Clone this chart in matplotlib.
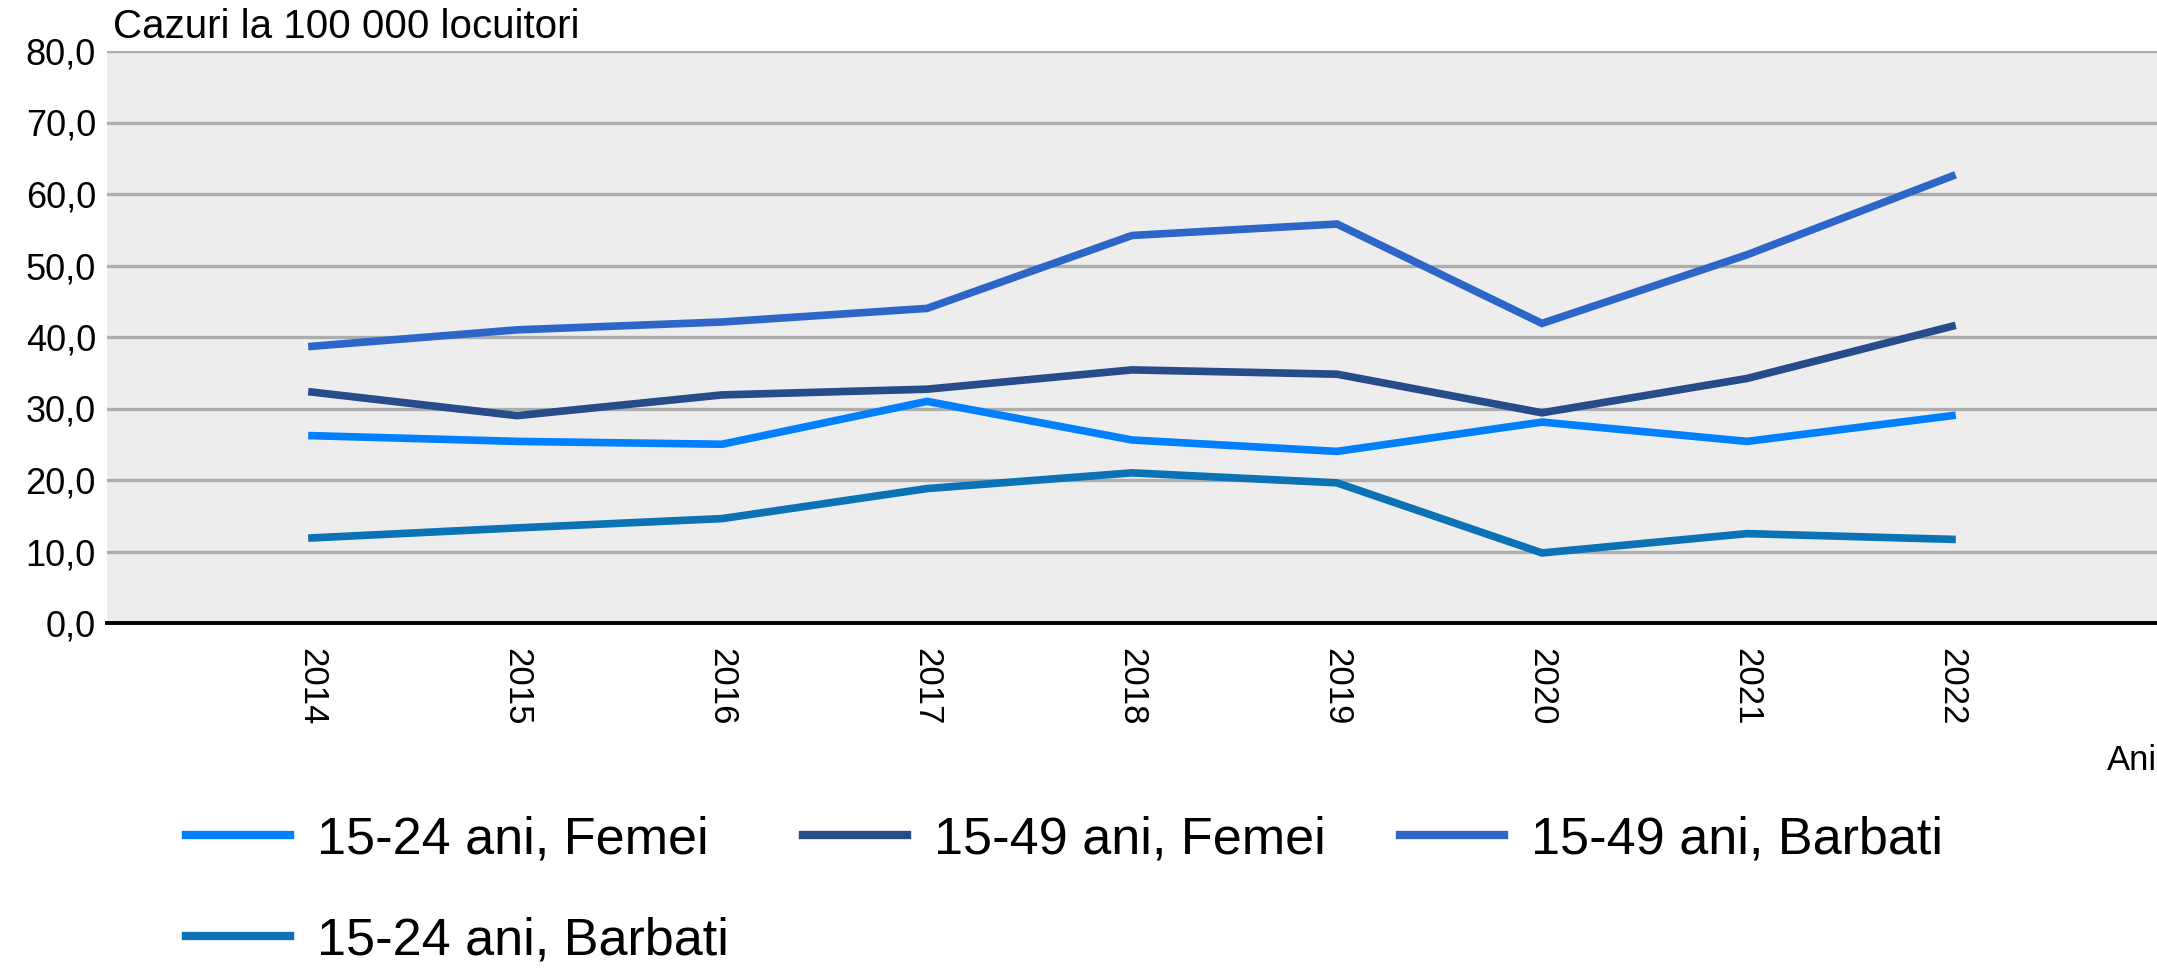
import matplotlib
matplotlib.use("Agg")
import matplotlib.pyplot as plt

plt.rcParams['font.family'] = ['Liberation Sans', 'DejaVu Sans']

years = [2014, 2015, 2016, 2017, 2018, 2019, 2020, 2021, 2022]
f_15_24 = [26.2, 25.4, 25.0, 31.0, 25.6, 24.0, 28.1, 25.4, 29.0]
f_15_49 = [32.3, 29.0, 31.9, 32.7, 35.4, 34.8, 29.4, 34.2, 41.5]
b_15_49 = [38.7, 41.0, 42.1, 44.0, 54.2, 55.8, 41.9, 51.5, 62.5]
b_15_24 = [11.9, 13.3, 14.6, 18.8, 21.0, 19.6, 9.8, 12.5, 11.7]

labels = ["15-24 ani, Femei", "15-49 ani, Femei", "15-49 ani, Barbati", "15-24 ani, Barbati"]
colors = ["#0080FF", "#264C8A", "#2D66C8", "#0A72B5"]
yticks = [0, 10, 20, 30, 40, 50, 60, 70, 80]
ytick_labels = ["0,0", "10,0", "20,0", "30,0", "40,0", "50,0", "60,0", "70,0", "80,0"]

fig = plt.figure(figsize=(21.57, 9.68), dpi=100)
ax = fig.add_axes([107/2157, 1 - 623/968, 1 - 107/2157, (623 - 51)/968])
ax.set_facecolor("#EDEDED")

series = [f_15_24, f_15_49, b_15_49, b_15_24]
handles = []
for vals, lab, col in zip(series, labels, colors):
    h, = ax.plot(years, vals, color=col, lw=5.5, label=lab, solid_joinstyle='miter', zorder=3)
    handles.append(h)

ax.set_xlim(2013, 2023)
ax.set_ylim(0, 80)
ax.set_yticks(yticks)
ax.set_yticklabels(ytick_labels, fontsize=26)
ax.set_xticks(years)
ax.set_xticklabels([str(y) for y in years], fontsize=25, rotation=270, va='top', ha='center')
ax.tick_params(axis='both', length=0)
ax.tick_params(axis='y', pad=8)
ax.tick_params(axis='x', pad=18)
ax.grid(axis='y', color='#ADADAD', lw=2.4, zorder=1)
ax.set_axisbelow(True)
for s in ['top', 'right', 'left']:
    ax.spines[s].set_visible(False)
ax.spines['bottom'].set_color('black')
ax.spines['bottom'].set_linewidth(2.8)
ax.spines['bottom'].set_zorder(4)

fig.text(113/2157, 1 - 38/968, "Cazuri la 100 000 locuitori", fontsize=29, ha='left', va='baseline')
fig.text(1.0, 1 - 761/968, "Ani", fontsize=25, ha='right', va='center')

order = [0, 3, 1, 2]
leg = fig.legend([handles[i] for i in order], [labels[i] for i in order],
                 ncol=3, loc='upper left', bbox_to_anchor=(186/2157, 1 - 815/968),
                 frameon=False, fontsize=37.5, handlelength=2.0, handletextpad=0.52,
                 columnspacing=1.42, labelspacing=1.0, borderpad=0, borderaxespad=0)
for line in leg.get_lines():
    line.set_linewidth(6.0)

fig.savefig("out.png", dpi=100)
